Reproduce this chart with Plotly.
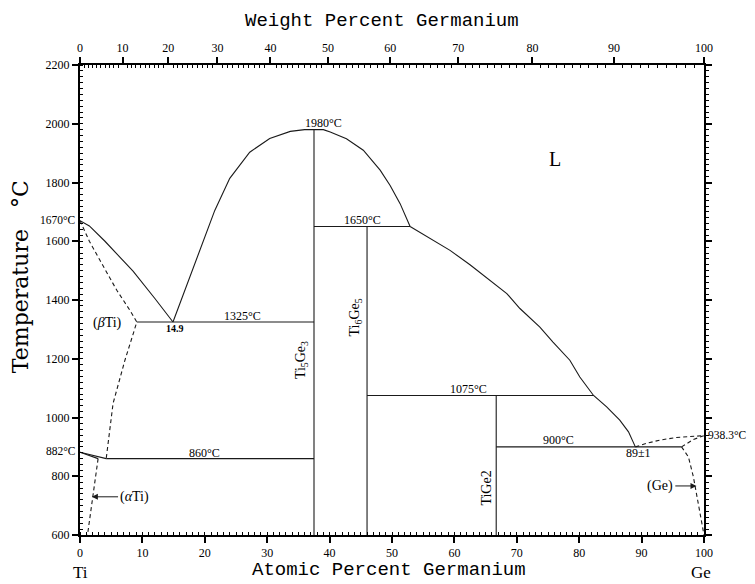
import plotly.graph_objects as go

# ---------------- data (atomic % Ge, temperature °C) ----------------
ti_liq_x = [0, 1.5, 4, 8.5, 12, 14.9]
ti_liq_t = [1670, 1652, 1600, 1498, 1405, 1325]

mid_liq_x = [14.9, 16.8, 19.2, 21.6, 24.0, 27.2, 30.4, 33.7, 36.0, 37.5, 39.0, 40.1, 42.7, 45.4, 48.1, 49.7, 51.3, 52.9]
mid_liq_t = [1325, 1433, 1563, 1705, 1814, 1903, 1950, 1974, 1980, 1980, 1980, 1972, 1949, 1910, 1842, 1790, 1728, 1650]

ge_liq_x = [52.9, 56.0, 59.3, 62.5, 65.7, 68.4, 70.5, 73.7, 75.8, 78.5, 80.1, 82.3, 84.4, 86.5, 87.9, 89.0]
ge_liq_t = [1650, 1610, 1569, 1520, 1467, 1422, 1371, 1308, 1257, 1195, 1138, 1075, 1036, 991, 951, 900]

bti_x = [0, 1.5, 3.2, 5.9, 8.0, 9.1, 8.6, 7.2, 5.3, 4.2]
bti_t = [1670, 1600, 1535, 1433, 1365, 1325, 1290, 1195, 1048, 860]

ti_trans_a_x = [0, 4.2]
ti_trans_a_t = [882, 860]
ti_trans_b_x = [0, 2.9]
ti_trans_b_t = [882, 860]

ati_x = [2.9, 2.0, 1.2]
ati_t = [860, 730, 600]

ge_liqd_x = [89.0, 90.8, 92.9, 95.6, 100]
ge_liqd_t = [900, 912, 923, 932, 938.3]
ge_sol_x = [96.4, 98.3, 100]
ge_sol_t = [900, 925, 938.3]
ge_solv_x = [96.4, 97.5, 98.3, 98.8, 99.6, 100]
ge_solv_t = [900, 866, 798, 742, 651, 600]

inv_x0 = [9.1, 37.5, 46.0, 66.7, 4.2]
inv_x1 = [37.5, 52.9, 82.3, 96.4, 37.5]
inv_t = [1325, 1650, 1075, 900, 860]

comp_x = [37.5, 46.0, 66.7]
comp_tmax = [1980, 1650, 1075]
comp_names = ["Ti<sub>5</sub>Ge<sub>3</sub>", "Ti<sub>6</sub>Ge<sub>5</sub>", "TiGe2"]
comp_label_x = [35.4, 44.2, 65.0]
comp_label_t = [1195, 1340, 760]

x_ticks = list(range(0, 101, 10))
y_ticks = list(range(600, 2201, 200))
wt_labels = list(range(0, 101, 10))

M_TI, M_GE = 47.87, 72.63


def at_from_wt(w):
    if w <= 0:
        return 0.0
    if w >= 100:
        return 100.0
    a = w / M_GE
    b = (100 - w) / M_TI
    return 100 * a / (a + b)


LC = "#1a1a1a"
LW = 1.1
fig = go.Figure()


def line(x, y, dash="solid", width=LW):
    fig.add_trace(go.Scatter(x=x, y=y, mode="lines", line=dict(color=LC, width=width, dash=dash),
                             hoverinfo="skip", showlegend=False))


line(ti_liq_x, ti_liq_t)
line(mid_liq_x, mid_liq_t)
line(ge_liq_x, ge_liq_t)
line(bti_x, bti_t, dash="4px,3px")
line(ti_trans_a_x, ti_trans_a_t)
line(ti_trans_b_x, ti_trans_b_t)
line(ati_x, ati_t, dash="4px,3px")
line(ge_liqd_x, ge_liqd_t, dash="4px,3px")
line(ge_sol_x, ge_sol_t, dash="4px,3px")
line(ge_solv_x, ge_solv_t, dash="4px,3px")
for x0, x1, t in zip(inv_x0, inv_x1, inv_t):
    line([x0, x1], [t, t])
for cx, ct in zip(comp_x, comp_tmax):
    line([cx, cx], [600, ct])

# dummy traces so the extra axes are drawn
fig.add_trace(go.Scatter(x=[None], y=[None], xaxis="x2", yaxis="y", showlegend=False, hoverinfo="skip"))
fig.add_trace(go.Scatter(x=[None], y=[None], xaxis="x3", yaxis="y", showlegend=False, hoverinfo="skip"))
fig.add_trace(go.Scatter(x=[None], y=[None], xaxis="x", yaxis="y2", showlegend=False, hoverinfo="skip"))

SERIF = "Liberation Serif"
MONO = "Liberation Mono"
tickfont = dict(family=SERIF, size=12, color="black")

wt_major_pos = [at_from_wt(w) for w in wt_labels]
wt_minor_pos = [at_from_wt(w) for w in range(1, 100) if w % 10 != 0]

fig.update_layout(
    width=747, height=576,
    margin=dict(l=72, r=51, t=57, b=49),
    plot_bgcolor="white", paper_bgcolor="white",
    showlegend=False,
    xaxis=dict(range=[0, 100], tickvals=x_ticks, ticks="outside", ticklen=6, tickwidth=1.5,
               tickcolor="black", showline=True, linewidth=2, linecolor="black",
               showgrid=False, zeroline=False, tickfont=tickfont,
               minor=dict(dtick=1, ticks="inside", ticklen=3, tickcolor="black", tickwidth=1)),
    yaxis=dict(range=[600, 2200], tickvals=y_ticks, ticks="outside", ticklen=6, tickwidth=1.5,
               tickcolor="black", showline=True, linewidth=2, linecolor="black",
               showgrid=False, zeroline=False, tickfont=tickfont,
               minor=dict(dtick=20, ticks="inside", ticklen=3, tickcolor="black", tickwidth=1)),
    yaxis2=dict(range=[600, 2200], overlaying="y", side="right", tickvals=y_ticks, ticks="outside",
                ticklen=6, tickwidth=1.5, tickcolor="black", showline=True, linewidth=2,
                linecolor="black", showgrid=False, zeroline=False, showticklabels=False,
                minor=dict(dtick=20, ticks="outside", ticklen=3, tickcolor="black", tickwidth=1)),
    xaxis2=dict(range=[0, 100], overlaying="x", side="top", tickvals=wt_major_pos,
                ticktext=[str(w) for w in wt_labels], ticks="outside", ticklen=6, tickwidth=1.5,
                tickcolor="black", showline=True, linewidth=2, linecolor="black",
                showgrid=False, zeroline=False, tickfont=tickfont),
    xaxis3=dict(range=[0, 100], overlaying="x", side="top", tickvals=wt_minor_pos, ticks="inside",
                ticklen=3, tickcolor="black", tickwidth=1, showticklabels=False, showline=False,
                showgrid=False, zeroline=False),
)

anns = []


def txt(x, y, s, size=11, xanchor="center", yanchor="middle", family=SERIF, angle=0, xref="x", yref="y"):
    anns.append(dict(x=x, y=y, xref=xref, yref=yref, text=s, showarrow=False, xanchor=xanchor,
                     yanchor=yanchor, textangle=angle, font=dict(family=family, size=size, color="black")))


txt(39.0, 2002, "1980°C", size=12)
txt(45.2, 1672, "1650°C", size=12)
txt(26.1, 1347, "1325°C", size=12)
txt(15.2, 1302, "<b>14.9</b>", size=10)
txt(62.2, 1097, "1075°C", size=12)
txt(76.7, 922, "900°C", size=12)
txt(89.5, 878, "89±1", size=12)
txt(20.0, 880, "860°C", size=12)
txt(76.1, 1880, "L", size=20)
txt(4.4, 1321, "(<i>β</i>Ti)", size=14)
txt(-0.004, 1672, "1670°C", size=11.5, xanchor="right", xref="paper")
txt(-0.004, 885, "882°C", size=11.5, xanchor="right", xref="paper")
txt(1.004, 940, "938.3°C", size=11.5, xanchor="left", xref="paper")
for name, lx, lt in zip(comp_names, comp_label_x, comp_label_t):
    txt(lx, lt, name, size=14, angle=-90)

# arrows
anns.append(dict(x=1.9, y=730, ax=6.1, ay=730, xref="x", yref="y", axref="x", ayref="y",
                 text="(<i>α</i>Ti)", showarrow=True, arrowhead=2, arrowsize=1.2, arrowwidth=1,
                 arrowcolor=LC, xanchor="left", font=dict(family=SERIF, size=14, color="black")))
anns.append(dict(x=98.8, y=767, ax=95.4, ay=767, xref="x", yref="y", axref="x", ayref="y",
                 text="(Ge)", showarrow=True, arrowhead=2, arrowsize=1.2, arrowwidth=1,
                 arrowcolor=LC, xanchor="right", font=dict(family=SERIF, size=14, color="black")))

# axis titles and end-member labels
txt(0.484, 1.094, "Weight Percent Germanium", size=19, family=MONO, xref="paper", yref="paper")
txt(0.495, -0.074, "Atomic Percent Germanium", size=19, family=MONO, xref="paper", yref="paper")
txt(-0.095, 0.55, "Temperature   °C", size=22, family="DejaVu Serif", angle=-90, xref="paper", yref="paper")
txt(0.0, -0.08, "Ti", size=17, xref="paper", yref="paper")
txt(0.995, -0.08, "Ge", size=17, xref="paper", yref="paper")

fig.update_layout(annotations=anns)
fig.write_html("out.html")
